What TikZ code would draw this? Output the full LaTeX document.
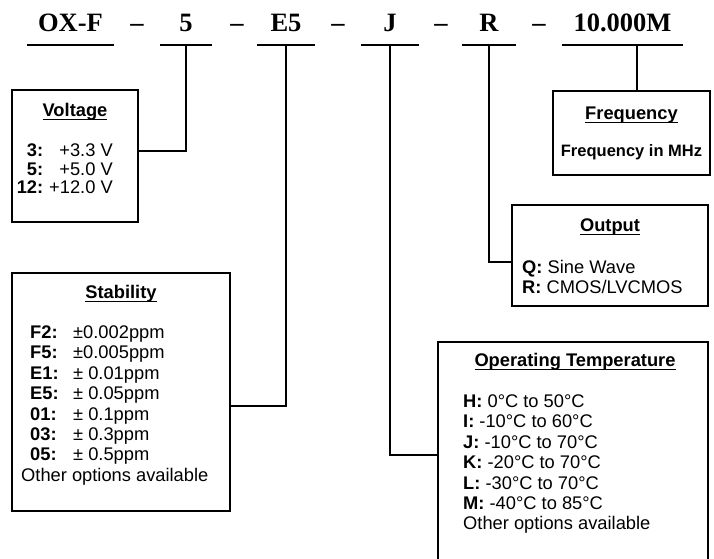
\documentclass[tikz,border=0pt]{standalone}
\usepackage{fontspec}
\setmainfont{Liberation Sans}
\newfontfamily\partfont{Liberation Serif}
\usepackage{tikz}
\usetikzlibrary{positioning}
\newcommand{\boxhead}[1]{\setbox0=\hbox{\bfseries #1}\rlap{\rule[-3.6pt]{\wd0}{1.5pt}}\box0}
\tikzset{
  partcode/.style={font=\partfont\bfseries\fontsize{26.5}{28}\selectfont,inner sep=0pt,anchor=base},
  partline/.style={line width=2.2pt},
  infobox/.style={draw,line width=2.4pt,inner sep=0pt},
  boxtitle/.style={font=\fontsize{18.3}{20.4}\selectfont,inner sep=0pt,anchor=base},
  boxlist/.style={font=\fontsize{18.3}{20.4}\selectfont,inner sep=0pt},
  linkline/.style={line width=1.3pt},
}

\begin{document}
\begin{tikzpicture}[x=1pt,y=-1pt]
        \useasboundingbox (0,0) rectangle (714,558);
        \clip (0,0) rectangle (714,558);
        \node[partcode,minimum width=87pt] (pfx) at (70.5,31) {OX-F};
        \node[partcode,minimum width=52pt] (pvolt) at (186,31) {5};
        \node[partcode,minimum width=57pt] (pstab) at (286,31) {E5};
        \node[partcode,minimum width=57pt] (ptemp) at (390,31) {J};
        \node[partcode,minimum width=53pt] (pout) at (489,31) {R};
        \node[partcode,minimum width=121pt] (pfreq) at (622.5,31) {10.000M};
        \foreach \x [count=\i] in {137,237,338,441,539}
          \node[partcode] (dash\i) at (\x,31) {–};
        \foreach \p in {pfx,pvolt,pstab,ptemp,pout,pfreq}
          \draw[partline] ([yshift=-14pt]\p.base west) -- ([yshift=-14pt]\p.base east);
        \coordinate (freqtap) at (637,45);

        \node[infobox,minimum width=126pt,minimum height=132pt] (volt) at (75,156) {};
        \node[boxtitle] (volttitle) at (75,116.5) {\boxhead{Voltage}};
        \node[boxlist,font=\fontsize{18.3}{18.5}\selectfont,anchor=base east] (voltlist) at (113,156.5) {\begin{tabular}[t]{@{}r@{\hspace{6pt}}r@{}}
          \textbf{3:} & +3.3 V\\ \textbf{5:} & +5.0 V\\ \textbf{12:} & +12.0 V\end{tabular}};

        \node[infobox,minimum width=218pt,minimum height=238pt] (stab) at (121,392) {};
        \node[boxtitle] (stabtitle) at (121,298.5) {\boxhead{Stability}};
        \node[boxlist,anchor=base west] (stablist) at (21,338.5) {\begin{tabular}[t]{@{\hspace{9pt}}l@{\hspace{14.5pt}}l@{}}
          \textbf{F2:} & ±0.002ppm\\ \textbf{F5:} & ±0.005ppm\\ \textbf{E1:} & ± 0.01ppm\\ \textbf{E5:} & ± 0.05ppm\\
          \textbf{01:} & ± 0.1ppm\\ \textbf{03:} & ± 0.3ppm\\ \textbf{05:} & ± 0.5ppm\\
          \multicolumn{2}{@{}l@{}}{Other options available}\end{tabular}};

        \node[infobox,minimum width=157pt,minimum height=84pt] (freq) at (631.5,133) {};
        \node[boxtitle] (freqtitle) at (631.5,119.5) {\boxhead{Frequency}};
        \node[boxtitle,font=\bfseries\fontsize{16.5}{18}\selectfont] (freqtext) at (631.5,156.5) {Frequency in MHz};

        \node[infobox,minimum width=196pt,minimum height=101pt] (outp) at (610,255.5) {};
        \node[boxtitle] (outptitle) at (610,231.5) {\boxhead{Output}};
        \node[boxlist,font=\fontsize{18.3}{20}\selectfont,anchor=base west] (outplist) at (522,273.5) {\begin{tabular}[t]{@{}l@{}}
          \textbf{Q:} Sine Wave\\ \textbf{R:} CMOS/LVCMOS\end{tabular}};

        \node[infobox,minimum width=270pt,minimum height=258pt] (temp) at (573,471) {};
        \node[boxtitle] (temptitle) at (575,366.5) {\boxhead{Operating Temperature}};
        \node[boxlist,anchor=base west] (templist) at (463,407.5) {\begin{tabular}[t]{@{}l@{}}
          \textbf{H:} 0°C to 50°C\\ \textbf{I:} -10°C to 60°C\\ \textbf{J:} -10°C to 70°C\\ \textbf{K:} -20°C to 70°C\\
          \textbf{L:} -30°C to 70°C\\ \textbf{M:} -40°C to 85°C\\ Other options available\end{tabular}};

        \draw[linkline] ([yshift=-14pt]pvolt.base) |- ([yshift=5pt]volt.east);
        \draw[linkline] ([yshift=-14pt]pstab.base) |- ([yshift=-14pt]stab.east);
        \draw[linkline] ([yshift=-14pt]ptemp.base) |- ([yshift=16pt]temp.west);
        \draw[linkline] ([yshift=-14pt]pout.base) |- ([yshift=-6.5pt]outp.west);
        \draw[linkline] (freqtap) -- (freqtap |- freq.north);
      \end{tikzpicture}
\end{document}
